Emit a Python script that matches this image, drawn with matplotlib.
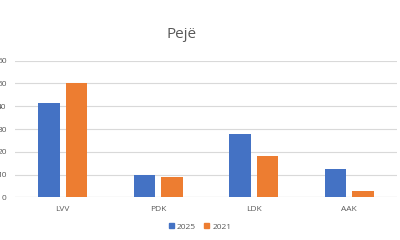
import numpy as np
import matplotlib
matplotlib.use("Agg")
import matplotlib.pyplot as plt
from matplotlib.patches import Patch

# Pejë - rezultatet sipas partive
parties = ["LVV", "PDK", "LDK", "AAK"]
votes_2025 = [41.4, 9.7, 27.9, 12.5]
votes_2021 = [50.3, 8.8, 18.2, 2.7]
yticks = [0, 10, 20, 30, 40, 50, 60]

plt.rcParams['font.family'] = ['Open Sans', 'DejaVu Sans']

fig = plt.figure(figsize=(4, 2.4), dpi=100)
ax = fig.add_axes([0.0375, 0.178, 0.955, 0.569])

x = np.arange(len(parties))
w = 0.227
gap = 0.06
ax.bar(x - (w + gap) / 2, votes_2025, w, color="#4472C4", zorder=3)
ax.bar(x + (w + gap) / 2, votes_2021, w, color="#ED7D31", zorder=3)

ax.set_xlim(-0.5, len(parties) - 0.5)
ax.set_ylim(0, 60)
ax.set_yticks(yticks)
ax.set_xticks(x)
ax.set_xticklabels(parties)
ax.grid(axis="y", color="#d9d9d9", linewidth=0.8, zorder=0)
for s in ["top", "right", "left", "bottom"]:
    ax.spines[s].set_visible(False)
ax.axhline(0, color="#d0d0d0", linewidth=0.8, zorder=2)
ax.tick_params(length=0, labelsize=6, labelcolor="#595959")
ax.tick_params(axis="y", pad=6)
ax.tick_params(axis="x", pad=6)

fig.text(0.455, 0.855, "Pejë", ha="center", va="center", fontsize=11, color="#595959")

handles = [Patch(color="#4472C4", label="2025"), Patch(color="#ED7D31", label="2021")]
fig.legend(handles=handles, loc="center", bbox_to_anchor=(0.5, 0.055), ncol=2,
           frameon=False, fontsize=6, labelcolor="#595959",
           handlelength=0.6, handleheight=0.6, handletextpad=0.4, columnspacing=1.0)

fig.savefig("out.png", dpi=100)
